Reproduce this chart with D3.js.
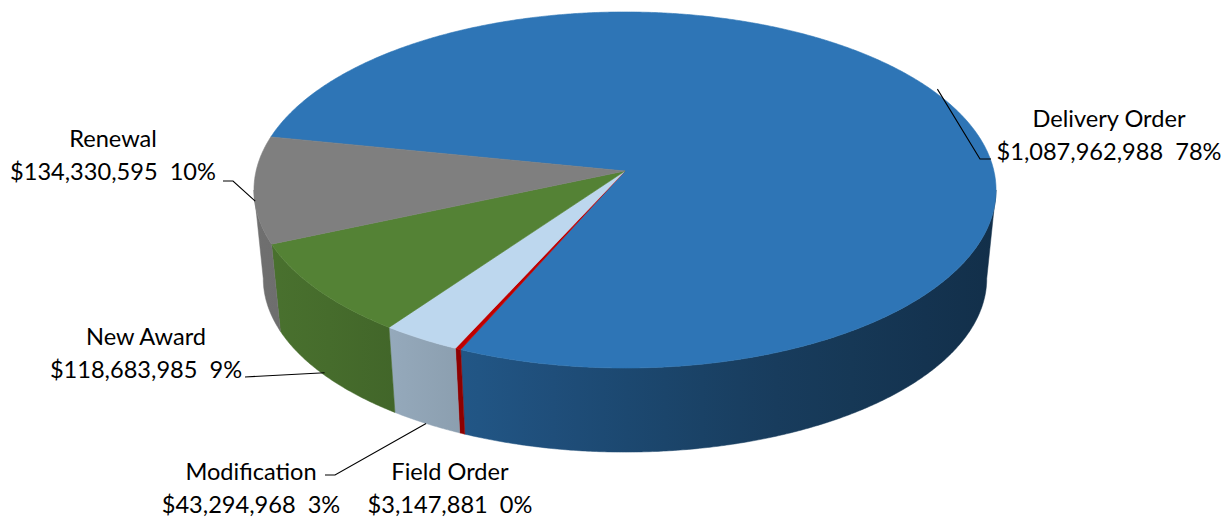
<!DOCTYPE html>
<html>
<head>
<meta charset="utf-8">
<script src="https://cdn.jsdelivr.net/npm/d3@7"></script>
<style>
  body { margin: 0; background: #fff; }
  text { font-family: Lato, "Open Sans", sans-serif; fill: #000; white-space: pre; }
</style>
</head>
<body>
<div id="chart"></div>
<script>
// ---- data ----
const categories = ["Delivery Order", "Field Order", "Modification", "New Award", "Renewal"];
const amounts = [1087962988, 3147881, 43294968, 118683985, 134330595];
const sliceColors = ["#2E75B6", "#C00000", "#BDD7EE", "#548235", "#7F7F7F"];

// label layout (line 1 baseline, centred x), leader elbows
const labelLayout = [
    { x: 1109, y: 127, leader: [[991, 159], [980, 159]], depthT: -0.05 },
    { x: 450, y: 480, leader: null, depthT: 0 },
    { x: 251, y: 480, leader: [[325, 475], [335, 475]], depthT: 1 },
    { x: 146, y: 345, leader: [[245, 377]], depthT: 0.97 },
    { x: 113, y: 147, leader: [[223, 181], [233, 181]], depthT: 0.13 }
];

const width = 1229, height = 521;

// projected disc geometry (perspective-ish ellipse)
const cx = 625, cy = 171;
const A = 368.9, B = 176, k = 0.1067;
const depth = 89, bottomScale = 0.975;
const startAngle = -78.6 * Math.PI / 180;

function proj(theta, t) {
    // t = 0 top rim, 1 bottom rim
    const u = Math.sin(theta), v = -Math.cos(theta);
    const w = 1 - k * v;
    const top = [cx + A * u / w, cy + B * v / w];
    const bot = [cx + bottomScale * A * u / w, cy + depth + bottomScale * B * v / w];
    return [top[0] + (bot[0] - top[0]) * t, top[1] + (bot[1] - top[1]) * t];
}

function rimPoints(a, b, t) {
    const n = Math.max(2, Math.ceil(Math.abs(b - a) / (0.4 * Math.PI / 180)));
    return d3.range(n + 1).map(i => proj(a + (b - a) * i / n, t));
}

const data = categories.map((name, i) => ({ name, value: amounts[i], color: sliceColors[i], layout: labelLayout[i] }));
const total = d3.sum(amounts);

const pie = d3.pie()
    .sort(null)
    .value(d => d.value)
    .startAngle(startAngle)
    .endAngle(startAngle + 2 * Math.PI);

const arcs = pie(data);

const svg = d3.select("#chart")
    .append("svg")
    .attr("width", width)
    .attr("height", height);

svg.append("rect").attr("width", width).attr("height", height).attr("fill", "#fff");

const defs = svg.append("defs");
const line = d3.line();

// side shading by x position
const shade = d3.scaleLinear().domain([255, 470, 760, 1000]).range([0.88, 0.73, 0.52, 0.40]);

// =========================
// SIDES (front half only)
// =========================
const thetaR = Math.acos(-k);
const thetaL = 2 * Math.PI - thetaR;

const sides = svg.append("g");
arcs.forEach((d, i) => {
    const a = Math.max(d.startAngle, thetaR);
    const b = Math.min(d.endAngle, thetaL);
    if (b <= a) return;

    const grad = defs.append("linearGradient")
        .attr("id", "side" + i)
        .attr("gradientUnits", "userSpaceOnUse")
        .attr("x1", 255).attr("x2", 1000).attr("y1", 0).attr("y2", 0);
    d3.range(0, 1.0001, 0.1).forEach(o => {
        const x = 255 + o * 745;
        const c = d3.rgb(d.data.color);
        const f = shade(x);
        grad.append("stop")
            .attr("offset", o)
            .attr("stop-color", d3.rgb(c.r * f, c.g * f, c.b * f).formatHex());
    });

    const pts = rimPoints(a, b, 0).concat(rimPoints(b, a, 1));
    sides.append("path")
        .attr("d", line(pts) + "Z")
        .attr("fill", `url(#side${i})`)
        .attr("stroke", `url(#side${i})`)
        .attr("stroke-width", 0.5);
});

// =========================
// TOP FACE
// =========================
const tops = svg.append("g");
arcs.forEach(d => {
    const pts = [[cx, cy]].concat(rimPoints(d.startAngle, d.endAngle, 0));
    tops.append("path")
        .attr("d", line(pts) + "Z")
        .attr("fill", d.data.color)
        .attr("stroke", d.data.color)
        .attr("stroke-width", 0.6)
        .attr("stroke-linejoin", "round");
});

// =========================
// LABELS + LEADERS
// =========================
const money = d3.format("$,");
const pct = d3.format(".0%");

const labels = svg.append("g");
arcs.forEach(d => {
    const L = d.data.layout;
    const g = labels.append("g");
    g.append("text")
        .attr("class", "lbl")
        .attr("x", L.x).attr("y", L.y)
        .attr("text-anchor", "middle")
        .text(d.data.name);
    g.append("text")
        .attr("class", "lbl")
        .attr("x", L.x).attr("y", L.y + 33)
        .attr("text-anchor", "middle")
        .text(`${money(d.data.value)}  ${pct(d.data.value / total)}`);

    if (L.leader) {
        const mid = (d.startAngle + d.endAngle) / 2;
        const end = proj(mid, L.depthT);
        labels.append("path")
            .attr("d", line(L.leader.concat([end])))
            .attr("fill", "none")
            .attr("stroke", "#000")
            .attr("stroke-width", 1.1);
    }
});

// fit font size so the widest label matches the reference width
const lbl = svg.selectAll("text.lbl").style("font-size", "24px");
const ref = lbl.nodes()[1]; // "$1,087,962,988  78%"
const len = ref.getComputedTextLength();
lbl.style("font-size", (24 * 225 / len).toFixed(2) + "px");
</script>
</body>
</html>
